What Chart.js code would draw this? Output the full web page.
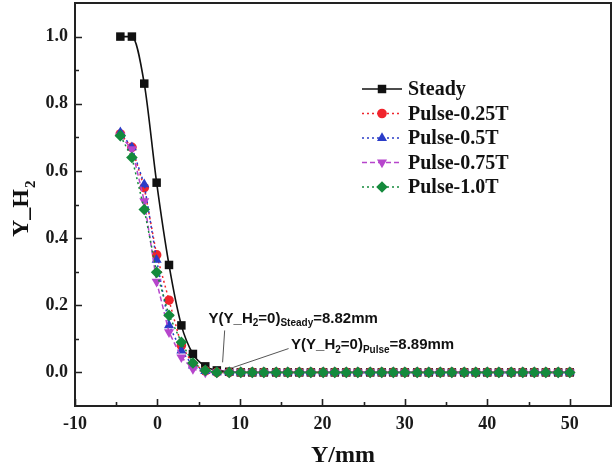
<!DOCTYPE html>
<html>
<head>
<meta charset="utf-8">
<script src="https://cdn.jsdelivr.net/npm/chart.js@4.4.0/dist/chart.umd.min.js"></script>
<style>
html, body { margin: 0; padding: 0; background: #fff; }
#wrap { width: 612px; height: 472px; }
</style>
</head>
<body>
<div id="wrap"><canvas id="lineGraphH2" width="612" height="472"></canvas></div>
<script>
// Y position (mm) of every sample point
var positions = [-4.5, -3.1, -1.6, -0.1, 1.4, 2.9, 4.3, 5.8, 7.2, 8.7,
    10.1, 11.5, 12.9, 14.4, 15.8, 17.2, 18.6, 20.1, 21.5, 22.9,
    24.3, 25.8, 27.2, 28.6, 30.0, 31.5, 32.9, 34.3, 35.7, 37.2,
    38.6, 40.0, 41.4, 42.9, 44.3, 45.7, 47.1, 48.6, 50.0];

// Y_H2 for each case (tail is zero after the front)
var steadyData = [1.0, 1.0, 0.86, 0.565, 0.32, 0.14, 0.055, 0.018, 0.006, 0.002,
    0, 0, 0, 0, 0, 0, 0, 0, 0, 0, 0, 0, 0, 0, 0, 0, 0, 0, 0, 0, 0, 0, 0, 0, 0, 0, 0, 0, 0];
var pulse025Data = [0.71, 0.67, 0.55, 0.35, 0.215, 0.08, 0.025, 0.005, 0, 0,
    0, 0, 0, 0, 0, 0, 0, 0, 0, 0, 0, 0, 0, 0, 0, 0, 0, 0, 0, 0, 0, 0, 0, 0, 0, 0, 0, 0, 0];
var pulse05Data = [0.715, 0.67, 0.56, 0.335, 0.14, 0.065, 0.02, 0.004, 0, 0,
    0, 0, 0, 0, 0, 0, 0, 0, 0, 0, 0, 0, 0, 0, 0, 0, 0, 0, 0, 0, 0, 0, 0, 0, 0, 0, 0, 0, 0];
var pulse075Data = [0.705, 0.665, 0.51, 0.27, 0.12, 0.045, 0.01, 0, 0, 0,
    0, 0, 0, 0, 0, 0, 0, 0, 0, 0, 0, 0, 0, 0, 0, 0, 0, 0, 0, 0, 0, 0, 0, 0, 0, 0, 0, 0, 0];
var pulse10Data = [0.705, 0.64, 0.485, 0.298, 0.17, 0.09, 0.028, 0.006, 0, 0,
    0, 0, 0, 0, 0, 0, 0, 0, 0, 0, 0, 0, 0, 0, 0, 0, 0, 0, 0, 0, 0, 0, 0, 0, 0, 0, 0, 0, 0];

var seriesNames = ['Steady', 'Pulse-0.25T', 'Pulse-0.5T', 'Pulse-0.75T', 'Pulse-1.0T'];

// tick labels
var xTickValues = [-10, 0, 10, 20, 30, 40, 50];
var xMinorValues = [-5, 5, 15, 25, 35, 45];
var yTickValues = [0, 0.2, 0.4, 0.6, 0.8, 1.0];
var yMinorValues = [0.1, 0.3, 0.5, 0.7, 0.9];

// zero-crossing notes
var steadyZero = 8.82;
var pulseZero = 8.89;

function toPoints(values) {
    return positions.map((x, i) => ({ x: x, y: values[i] }));
}

var styles = [
    { color: '#111111', style: 'rect', radius: 6, dash: [], width: 1.6, rotation: 0 },
    { color: '#f0242c', style: 'circle', radius: 4.8, dash: [2, 3], width: 1.5, rotation: 0 },
    { color: '#2a3cc8', style: 'triangle', radius: 5.8, dash: [2, 3], width: 1.5, rotation: 0 },
    { color: '#b645cc', style: 'triangle', radius: 5.8, dash: [5, 3], width: 1.5, rotation: 180 },
    { color: '#148a3c', style: 'rectRot', radius: 5.8, dash: [2, 3], width: 1.5, rotation: 0 }
];
var seriesValues = [steadyData, pulse025Data, pulse05Data, pulse075Data, pulse10Data];

var datasets = seriesValues.map(function (vals, i) {
    var s = styles[i];
    return {
        label: seriesNames[i],
        data: toPoints(vals),
        borderColor: s.color,
        backgroundColor: s.color,
        borderWidth: s.width,
        borderDash: s.dash,
        pointStyle: s.style,
        pointRadius: s.radius,
        pointRotation: s.rotation,
        pointBorderWidth: 0,
        cubicInterpolationMode: i === 0 ? 'monotone' : 'default',
        tension: 0,
        fill: false,
        order: 4 - i
    };
});

// frame, inward ticks, legend, y title and notes
var extrasPlugin = {
    id: 'extras',
    afterDraw: function (chart) {
        var ctx = chart.ctx;
        var a = chart.chartArea;
        var xs = chart.scales.x, ys = chart.scales.y;
        ctx.save();

        // frame
        ctx.strokeStyle = '#222';
        ctx.lineWidth = 2;
        ctx.strokeRect(a.left, a.top, a.right - a.left, a.bottom - a.top);

        // ticks (inside)
        ctx.lineWidth = 1.6;
        ctx.beginPath();
        xTickValues.forEach(function (v) {
            var px = Math.round(xs.getPixelForValue(v)) + 0.5;
            ctx.moveTo(px, a.bottom); ctx.lineTo(px, a.bottom - 7);
        });
        xMinorValues.forEach(function (v) {
            var px = Math.round(xs.getPixelForValue(v)) + 0.5;
            ctx.moveTo(px, a.bottom); ctx.lineTo(px, a.bottom - 4);
        });
        yTickValues.forEach(function (v) {
            var py = Math.round(ys.getPixelForValue(v)) + 0.5;
            ctx.moveTo(a.left, py); ctx.lineTo(a.left + 7, py);
        });
        yMinorValues.forEach(function (v) {
            var py = Math.round(ys.getPixelForValue(v)) + 0.5;
            ctx.moveTo(a.left, py); ctx.lineTo(a.left + 4, py);
        });
        ctx.stroke();

        // legend
        var lx = 362, ly = 89, step = 24.5;
        ctx.font = 'bold 20px "Liberation Serif", "Times New Roman", serif';
        ctx.textBaseline = 'middle';
        styles.forEach(function (s, i) {
            var y = ly + i * step;
            ctx.strokeStyle = s.color;
            ctx.lineWidth = s.width;
            ctx.setLineDash(s.dash);
            ctx.beginPath();
            ctx.moveTo(lx, y); ctx.lineTo(lx + 40, y);
            ctx.stroke();
            ctx.setLineDash([]);
            ctx.fillStyle = s.color;
            Chart.helpers.drawPoint(ctx, {
                pointStyle: s.style, radius: s.radius, rotation: s.rotation, borderWidth: 0
            }, lx + 20, y);
            ctx.fillStyle = '#111';
            ctx.fillText(seriesNames[i], lx + 46, y + 1);
        });

        // y axis title with subscript
        ctx.save();
        ctx.translate(22, 208);
        ctx.rotate(-Math.PI / 2);
        ctx.fillStyle = '#111';
        ctx.textAlign = 'left';
        ctx.textBaseline = 'middle';
        ctx.font = 'bold 24px "Liberation Serif", "Times New Roman", serif';
        var mainW = ctx.measureText('Y_H').width;
        ctx.fillText('Y_H', -mainW / 2 - 5, 0);
        ctx.font = 'bold 15px "Liberation Serif", "Times New Roman", serif';
        ctx.fillText('2', mainW / 2 - 4, 9);
        ctx.restore();

        // notes with leader lines
        drawNote(ctx, xs, ys, 'Steady', steadyZero, 6.2, 0.16, [8.15, 0.125], [7.9, 0.03]);
        drawNote(ctx, xs, ys, 'Pulse', pulseZero, 16.2, 0.082, [15.9, 0.071], [9.2, 0.015]);

        ctx.restore();
    }
};

function drawNote(ctx, xs, ys, tag, value, tx, ty, from, to) {
    var x = xs.getPixelForValue(tx), y = ys.getPixelForValue(ty);
    var big = 'bold 15px "Liberation Sans", Arial, sans-serif';
    var small = 'bold 10px "Liberation Sans", Arial, sans-serif';
    var parts = [['Y(Y_H', big, 0], ['2', small, 5], ['=0)', big, 0], [tag, small, 5], ['=' + value.toFixed(2) + 'mm', big, 0]];
    ctx.fillStyle = '#111';
    ctx.textBaseline = 'middle';
    ctx.textAlign = 'left';
    parts.forEach(function (p) {
        ctx.font = p[1];
        ctx.fillText(p[0], x, y + p[2]);
        x += ctx.measureText(p[0]).width;
    });
    ctx.strokeStyle = '#555';
    ctx.lineWidth = 1;
    ctx.beginPath();
    ctx.moveTo(xs.getPixelForValue(from[0]), ys.getPixelForValue(from[1]));
    ctx.lineTo(xs.getPixelForValue(to[0]), ys.getPixelForValue(to[1]));
    ctx.stroke();
}

var canvas = document.getElementById('lineGraphH2');
if (canvas && canvas.getContext) {
    var lineGraphH2 = new Chart(canvas, {
        type: 'line',
        data: { datasets: datasets },
        plugins: [extrasPlugin],
        options: {
            responsive: false,
            animation: false,
            devicePixelRatio: 1,
            layout: { autoPadding: false, padding: { left: 0, right: 1, top: 3, bottom: 0 } },
            plugins: { legend: { display: false }, tooltip: { enabled: false } },
            scales: {
                x: {
                    type: 'linear',
                    min: -10,
                    max: 55,
                    grid: { display: false, drawTicks: false },
                    border: { display: false },
                    afterBuildTicks: function (scale) {
                        scale.ticks = xTickValues.map(v => ({ value: v }));
                    },
                    afterFit: function (scale) {
                        scale.height = 66;
                        scale.paddingLeft = 0;
                        scale.paddingRight = 0;
                    },
                    ticks: {
                        font: { family: '"Liberation Serif", "Times New Roman", serif', size: 18, weight: 'bold' },
                        color: '#1a1a1a',
                        padding: 8,
                        maxRotation: 0,
                        callback: function (v) { return String(v); }
                    },
                    title: {
                        display: true,
                        text: 'Y/mm',
                        color: '#111',
                        font: { family: '"Liberation Serif", "Times New Roman", serif', size: 24, weight: 'bold' },
                        padding: { top: 0, bottom: 2 }
                    }
                },
                y: {
                    type: 'linear',
                    min: -0.1,
                    max: 1.1,
                    grid: { display: false, drawTicks: false },
                    border: { display: false },
                    afterBuildTicks: function (scale) {
                        scale.ticks = yTickValues.map(v => ({ value: v }));
                    },
                    afterFit: function (scale) {
                        scale.width = 75;
                        scale.paddingTop = 0;
                        scale.paddingBottom = 0;
                    },
                    ticks: {
                        font: { family: '"Liberation Serif", "Times New Roman", serif', size: 18, weight: 'bold' },
                        color: '#1a1a1a',
                        padding: 7,
                        callback: function (v) { return v.toFixed(1); }
                    }
                }
            }
        }
    });
}
</script>
</body>
</html>
